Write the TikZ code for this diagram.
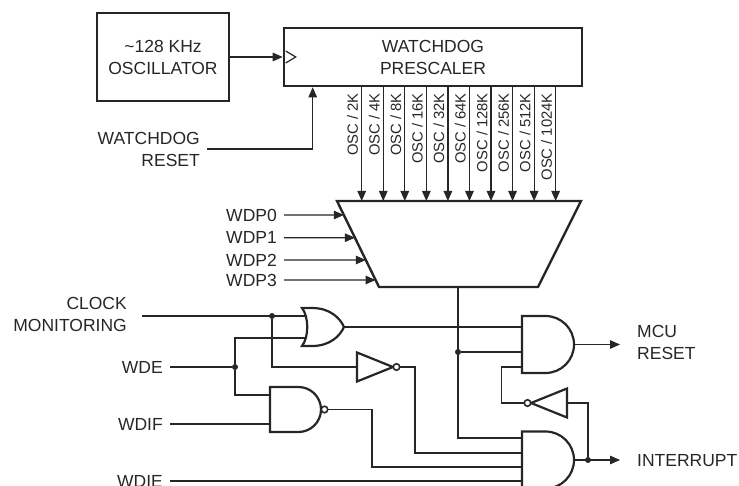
\documentclass[tikz,border=0pt]{standalone}
\usepackage{fontspec}
\setmainfont{Liberation Sans}
\usetikzlibrary{arrows.meta,calc}
\newcommand{\lblfont}{\fontsize{17.5}{22}\selectfont}
\newcommand{\osclblfont}{\fontsize{14.8}{17}\selectfont}
\tikzset{
    wire/.style={line width=1.2pt, draw=black!85},
    heavy/.style={line width=2.4pt, draw=black!85},
    gatebody/.style={line width=2.2pt, draw=black!85},
    blockbox/.style={
        rectangle, draw=black!85, line width=2.6pt,
        align=center, font=\lblfont, text=black!85, inner sep=0pt
    },
    lbl/.style={font=\lblfont, text=black!85, align=right, inner xsep=7pt, inner ysep=1pt},
    osclbl/.style={font=\osclblfont, text=black!85, rotate=90, anchor=east, inner sep=0pt},
    arr/.style={-{Triangle[length=10pt,width=8.5pt]}},
    dot/.style={circle, fill=black!85, inner sep=0pt, minimum size=6pt},
    bubble/.style={circle, draw=black!85, line width=1.6pt, fill=white, inner sep=0pt, minimum size=6.5pt},
    pics/andgate/.style={code={
        \draw[gatebody] (0,28.5) -- (23.5,28.5) arc[start angle=90, end angle=-90, radius=28.5pt] -- (0,-28.5) -- cycle;
        \coordinate (-out) at (52,0);
    }},
    pics/nandgate/.style={code={
        \draw[gatebody] (0,22.5) -- (28.5,22.5) arc[start angle=90, end angle=-90, radius=22.5pt] -- (0,-22.5) -- cycle;
        \node[bubble] at (54.5,0) {};
        \coordinate (-out) at (58,0);
    }},
    pics/orgate/.style={code={
        \draw[gatebody] (0,19) .. controls (7,10) and (7,-10) .. (0,-19) -- (10,-19)
            .. controls (28,-19) and (38,-9) .. (42,0) .. controls (38,9) and (28,19) .. (10,19) -- cycle;
        \coordinate (-in1) at (4,11);
        \coordinate (-in2) at (4,-11);
        \coordinate (-out) at (42,0);
    }},
    pics/notgate/.style={code={
        \draw[gatebody] (0,14.5) -- (36,0) -- (0,-14.5) -- cycle;
        \node[bubble] at (39.5,0) {};
        \coordinate (-in) at (0,0);
        \coordinate (-out) at (43,0);
    }}
}
\begin{document}
\begin{tikzpicture}[x=1pt, y=1pt]
    \useasboundingbox (0,0) rectangle (739,-486);

    % Oscillator and prescaler
    \node[blockbox, minimum width=132pt, minimum height=88pt] (osc) at (163,-57) {\textasciitilde128 KHz\\OSCILLATOR};
    \node[blockbox, minimum width=298pt, minimum height=58pt] (presc) at (433,-57) {WATCHDOG\\PRESCALER};
    \draw[wire, arr] (osc.east) -- (presc.west);
    \draw[wire] ([shift={(3,6)}]presc.west) -- ([shift={(13,0)}]presc.west) -- ([shift={(3,-6)}]presc.west);

    % Watchdog reset
    \node[lbl, anchor=east] (wdr) at (207,-149) {WATCHDOG\\RESET};
    \draw[wire, arr] (wdr.east) -| ($(presc.south west)+(30,0)$);

    % Multiplexer
    \coordinate (mux-tl) at (337,-201);
    \coordinate (mux-tr) at (581,-201);
    \coordinate (mux-br) at (538,-287);
    \coordinate (mux-bl) at (379,-287);
    \coordinate (mux-out) at (458,-287);
    \draw[heavy] (mux-tl) -- (mux-tr) -- (mux-br) -- (mux-bl) -- cycle;

    % Prescaler taps
    \foreach \d [count=\i from 0] in {2K,4K,8K,16K,32K,64K,128K,256K,512K,1024K} {
        \pgfmathsetmacro\xx{361.7+21.55*\i}
        \coordinate (tap\i) at (\xx,-86);
        \draw[wire, arr] (tap\i) -- (tap\i |- mux-tl);
        \node[osclbl] (osc\i) at (\xx-9,-93) {OSC / \d};
    }

    % Select inputs
    \foreach \n/\y in {0/215,1/237.7,2/260,3/280} {
        \pgfmathsetmacro\f{(\y-201)/86}
        \node[lbl, anchor=east] (wdp\n) at (284,-\y) {WDP\n};
        \draw[wire, arr] (wdp\n.east) -- ($(mux-tl)!\f!(mux-bl)$);
    }

    % Gates
    \pic (or) at (302,-327) {orgate};
    \pic (inv1) at (357,-367) {notgate};
    \pic (nand) at (270,-409.5) {nandgate};
    \pic (mcu) at (522,-344.5) {andgate};
    \pic (int) at (522,-460) {andgate};
    \pic[xscale=-1] (inv2) at (567,-403) {notgate};

    \coordinate (nand-in1) at (270,-395);
    \coordinate (nand-in2) at (270,-424);
    \coordinate (mcu-in1) at (522,-327);
    \coordinate (mcu-in2) at (522,-352);
    \coordinate (mcu-in3) at (522,-367);
    \coordinate (int-in1) at (522,-438);
    \coordinate (int-in2) at (522,-453);
    \coordinate (int-in3) at (522,-467);
    \coordinate (int-in4) at (522,-481);

    % Junctions
    \node[dot] (cmdot) at (272,-316) {};
    \node[dot] (wdedot) at (235,-367) {};
    \node[dot] (muxdot) at (458,-352) {};
    \node[dot] (intdot) at (588,-460) {};

    % Inputs on the left
    \node[lbl, anchor=east, inner xsep=15pt] (clkmon) at (142,-314) {CLOCK\\MONITORING};
    \node[lbl, anchor=east] (wde) at (170,-367) {WDE};
    \node[lbl, anchor=east] (wdif) at (170,-424) {WDIF};
    \node[lbl, anchor=east] (wdie) at (170,-481) {WDIE};

    % Wires
    \draw[wire] (clkmon.east |- or-in1) -- (or-in1);
    \draw[wire] (cmdot) |- (inv1-in);
    \draw[wire] (wde.east) -- (wdedot);
    \draw[wire] (or-in2) -| (wdedot) |- (nand-in1);
    \draw[wire] (wdif.east) -- (nand-in2);
    \draw[wire] (wdie.east) -- (int-in4);
    \draw[wire] (nand-out) -| ($(int-in3)+(-150,0)$) -- (int-in3);
    \draw[wire] (inv1-out) -| ($(int-in2)+(-107,0)$) -- (int-in2);
    \draw[wire] (or-out) -- (mcu-in1);
    \draw[wire] (mux-out) |- (int-in1);
    \draw[wire] (muxdot) -- (mcu-in2);
    \draw[wire] (mcu-in3) -| ($(inv2-out)+(-22.5,0)$) -- (inv2-out);
    \draw[wire] (inv2-in) -| (intdot);

    % Outputs
    \node[lbl, anchor=west, align=left] (mcurst) at (630,-342.5) {MCU\\RESET};
    \node[lbl, anchor=west, align=left] (intr) at (630,-461) {INTERRUPT};
    \draw[wire, arr, shorten >=10pt] (mcu-out) -- (mcu-out -| mcurst.west);
    \draw[wire, arr, shorten >=10pt] (int-out) -- (int-out -| intr.west);

\end{tikzpicture}
\end{document}
